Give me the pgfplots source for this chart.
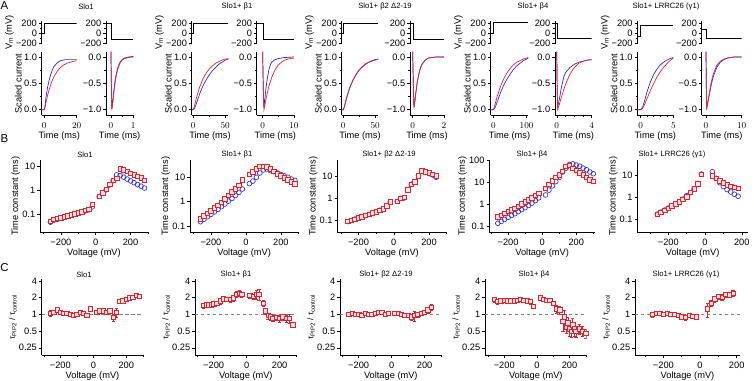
\documentclass[border=0pt]{standalone}
\usepackage{pgfplots}
\pgfplotsset{compat=1.18}
\usepackage{fontspec}
\setmainfont{Liberation Sans}
\definecolor{ired}{RGB}{225,35,45}
\definecolor{iblue}{RGB}{40,40,215}
\newcommand{\tf}{\fontsize{9.3}{10}\selectfont}
\newcommand{\ttf}{\fontsize{7.7}{8}\selectfont}
\pgfplotsset{
  base/.style={scale only axis, anchor=south west, axis lines=left,
    axis line style={-, line width=0.55pt},
    tick align=outside, major tick length=2.8bp, minor tick length=1.6bp,
    tick style={black, line width=0.5pt},
    ticklabel style={font=\tf, inner sep=1pt},
    xticklabel style={yshift=-3.5bp},
    yticklabel style={xshift=-0.8bp},
    label style={font=\tf, inner sep=1pt},
    xlabel style={yshift=-1bp},
  },
  prot/.style={base, axis x line=none, ymin=-220, ymax=250, height=23.5bp,
    ytick={-200,0,200}, yticklabels={−200,0,200}, minor ytick={-100,100}},
  curL/.style={base, ymin=-0.1, ymax=1.1, height=63.3bp, ytick={0,0.5,1},
    yticklabels={0.0,0.5,1.0}, minor ytick={0.25,0.75}, xlabel={Time (ms)}},
  curR/.style={base, ymin=-1.1, ymax=0.1, height=63.3bp, ytick={-1,-0.5,0},
    yticklabels={−1.0,−0.5,0.0}, minor ytick={-0.75,-0.25}, xlabel={Time (ms)}},
  rowB/.style={base, height=71.5bp, yminorticks=false,
    xtick={-200,0,200}, xticklabels={−200,0,200}, minor xtick={-300,-100,100,300},
    xlabel={Voltage (mV)}},
  rowC/.style={base, height=76bp, ymin=0.185, ymax=4.35, yminorticks=false,
    ytick={0.25,0.5,1,2,4}, yticklabels={0.25,0.5,1,2,4},
    xtick={-200,0,200}, xticklabels={−200,0,200}, minor xtick={-300,-100,100,300},
    xlabel={Voltage (mV)}, ylabel={τ\textsubscript{PIP2} / τ\textsubscript{control}},
    ylabel style={font=\fontsize{8.5}{9}\selectfont}},
  pl/.style={black, line width=0.6pt},
  trB/.style={iblue, line width=0.7pt, no marks},
  trR/.style={ired, line width=0.7pt, no marks},
  mB/.style={iblue, only marks, mark=o, mark size=2.4bp, mark options={line width=0.65pt}},
  mR/.style={ired, only marks, mark=square*, mark size=2.2bp, mark options={line width=0.65pt, fill=ired!12}},
  mC/.style={ired, only marks, mark=square*, mark size=2.2bp, mark options={line width=0.65pt, fill=ired!12},
    error bars/.cd, y dir=both, y explicit,
    error bar style={ired, line width=0.5pt},
    error mark options={rotate=90, ired, mark size=1.6bp, line width=0.5pt}},
  dl/.style={gray, line width=0.6pt, dash pattern=on 3.5pt off 2.5pt},
}
\begin{document}
\begin{tikzpicture}
\useasboundingbox (0,0) rectangle (754bp,381bp);
% ---------- panel letters and titles ----------
\node[font=\fontsize{11.5}{12}\selectfont] at (4.5bp,375.5bp) {A};
\node[font=\fontsize{11.5}{12}\selectfont] at (4.5bp,242bp) {B};
\node[font=\fontsize{11.5}{12}\selectfont] at (4.5bp,113bp) {C};
\foreach \x/\t in {86/Slo1, 237/Slo1+ β1, 385/Slo1+ β2 Δ2-19, 533/Slo1+ β4, 666/Slo1+ LRRC26 (γ1)}
  \node[font=\ttf] at (\x bp,374bp) {\t};
\foreach \x/\t in {85/Slo1, 237/Slo1+ β1, 389/Slo1+ β2 Δ2-19, 532/Slo1+ β4, 672/Slo1+ LRRC26 (γ1)}
  \node[font=\ttf] at (\x bp,226bp) {\t};
\foreach \x/\t in {84/Slo1, 236/Slo1+ β1, 386/Slo1+ β2 Δ2-19, 534/Slo1+ β4, 686/Slo1+ LRRC26 (γ1)}
  \node[font=\ttf] at (\x bp,106bp) {\t};

% ================= ROW A =================
% ---- col 1 Slo1
\begin{axis}[prot, at={(41.7bp,336.7bp)}, width=35bp, xmin=-1.6, xmax=20, ylabel={V\textsubscript{m} (mV)}]
\addplot[pl] coordinates {(-1.6,0)(0,0)(0,200)(20,200)};
\end{axis}
\begin{axis}[prot, at={(106bp,336.7bp)}, width=27.3bp, xmin=-0.22, xmax=1]
\addplot[pl] coordinates {(-0.22,200)(0.03,200)(0.03,-120)(1,-120)};
\end{axis}
\begin{axis}[curL, at={(41.7bp,266bp)}, width=35bp, xmin=-1.6, xmax=20, xtick={0,20}, minor xtick={10}, ylabel={Scaled current}]
\addplot[trB] coordinates {(-1.6,0)(0,0)(0.5,0.08)(1,0.22)(2,0.42)(3,0.56)(4,0.67)(5,0.76)(6,0.82)(8,0.89)(10,0.93)(13,0.95)(16,0.95)(20,0.95)};
\addplot[trR] coordinates {(-1.6,0)(0,0)(0.5,0.05)(1,0.13)(2,0.27)(3,0.38)(4,0.48)(5,0.56)(6,0.63)(8,0.73)(10,0.8)(12,0.85)(14,0.88)(17,0.91)(20,0.93)};
\end{axis}
\begin{axis}[curR, at={(106bp,266bp)}, width=27.3bp, xmin=-0.22, xmax=1, xtick={0,1}, minor xtick={0.5}]
\addplot[trB] coordinates {(0,0.1)(0.02,-0.5)(0.04,-0.98)(0.08,-0.85)(0.12,-0.68)(0.16,-0.53)(0.2,-0.41)(0.25,-0.3)(0.3,-0.21)(0.4,-0.1)(0.5,-0.05)(0.6,-0.02)(0.8,0)(1,0.01)};
\addplot[trR] coordinates {(0,0.1)(0.02,-0.5)(0.04,-1)(0.08,-0.9)(0.12,-0.72)(0.16,-0.57)(0.2,-0.45)(0.25,-0.33)(0.3,-0.24)(0.4,-0.12)(0.5,-0.06)(0.6,-0.03)(0.8,-0.01)(1,0)};
\end{axis}
% ---- col 2 beta1
\begin{axis}[prot, at={(191.7bp,336.7bp)}, width=36.6bp, xmin=-2.5, xmax=55, ylabel={V\textsubscript{m} (mV)}]
\addplot[pl] coordinates {(-2.5,0)(0,0)(0,200)(55,200)};
\end{axis}
\begin{axis}[prot, at={(256.7bp,336.7bp)}, width=37.3bp, xmin=-1.9, xmax=10]
\addplot[pl] coordinates {(-1.9,200)(0.2,200)(0.2,-120)(10,-120)};
\end{axis}
\begin{axis}[curL, at={(191.7bp,266bp)}, width=36.6bp, xmin=-2.5, xmax=55, xtick={0,50}, minor xtick={25}, ylabel={Scaled current}]
\addplot[trB] coordinates {(-2.5,0)(0,0)(2,0.03)(5,0.12)(10,0.3)(15,0.45)(20,0.56)(25,0.66)(30,0.74)(35,0.8)(40,0.86)(45,0.9)(50,0.94)(55,0.96)};
\addplot[trR] coordinates {(-2.5,0)(0,0)(2,0.08)(5,0.23)(10,0.43)(15,0.58)(20,0.69)(25,0.77)(30,0.83)(35,0.88)(40,0.91)(45,0.94)(50,0.96)(55,0.97)};
\end{axis}
\begin{axis}[curR, at={(256.7bp,266bp)}, width=37.3bp, xmin=-1.9, xmax=10, xtick={0,10}, minor xtick={5}]
\addplot[trB] coordinates {(0,0.1)(0.2,-0.6)(0.4,-0.95)(0.7,-0.8)(1,-0.62)(1.5,-0.4)(2,-0.24)(2.5,-0.14)(3,-0.09)(4,-0.05)(5,-0.03)(7,-0.01)(10,0)};
\addplot[trR] coordinates {(0,0.1)(0.2,-0.6)(0.4,-1)(0.7,-0.92)(1,-0.82)(1.5,-0.68)(2,-0.55)(3,-0.37)(4,-0.24)(5,-0.15)(6,-0.1)(7,-0.06)(8,-0.04)(10,-0.02)};
\end{axis}
% ---- col 3 beta2
\begin{axis}[prot, at={(341.7bp,336.7bp)}, width=36.6bp, xmin=-2.5, xmax=55, ylabel={V\textsubscript{m} (mV)}]
\addplot[pl] coordinates {(-2.5,0)(0,0)(0,200)(55,200)};
\end{axis}
\begin{axis}[prot, at={(410bp,336.7bp)}, width=34bp, xmin=-0.17, xmax=2]
\addplot[pl] coordinates {(-0.17,200)(0.02,200)(0.02,-120)(2,-120)};
\end{axis}
\begin{axis}[curL, at={(341.7bp,266bp)}, width=36.6bp, xmin=-2.5, xmax=55, xtick={0,50}, minor xtick={25}, ylabel={Scaled current}]
\addplot[trB] coordinates {(-2.5,0)(0,0)(2,0.07)(5,0.21)(10,0.41)(15,0.55)(20,0.66)(25,0.75)(30,0.81)(35,0.86)(40,0.9)(45,0.93)(50,0.95)(55,0.96)};
\addplot[trR] coordinates {(-2.5,0)(0,0)(2,0.07)(5,0.22)(10,0.42)(15,0.56)(20,0.67)(25,0.76)(30,0.82)(35,0.87)(40,0.9)(45,0.92)(50,0.94)(55,0.96)};
\end{axis}
\begin{axis}[curR, at={(410bp,266bp)}, width=34bp, xmin=-0.17, xmax=2, xtick={0,2}, minor xtick={1}]
\addplot[trB] coordinates {(0,0.1)(0.04,-0.5)(0.08,-0.95)(0.15,-0.82)(0.2,-0.68)(0.3,-0.46)(0.4,-0.31)(0.5,-0.2)(0.6,-0.13)(0.8,-0.06)(1,-0.02)(1.5,0)(2,0)};
\addplot[trR] coordinates {(0,0.1)(0.04,-0.5)(0.08,-0.97)(0.15,-0.83)(0.2,-0.69)(0.3,-0.47)(0.4,-0.32)(0.5,-0.21)(0.6,-0.14)(0.8,-0.06)(1,-0.02)(1.5,0)(2,0)};
\end{axis}
% ---- col 4 beta4
\begin{axis}[prot, at={(490.7bp,336.7bp)}, width=37.6bp, xmin=-8, xmax=105, ylabel={V\textsubscript{m} (mV)}]
\addplot[pl] coordinates {(-8,0)(0,0)(0,220)(105,220)};
\end{axis}
\begin{axis}[prot, at={(555bp,336.7bp)}, width=36.7bp, xmin=-0.2, xmax=4]
\addplot[pl] coordinates {(-0.2,200)(0.05,200)(0.05,-110)(4,-110)};
\end{axis}
\begin{axis}[curL, at={(490.7bp,266bp)}, width=37.6bp, xmin=-8, xmax=105, xtick={0,100}, minor xtick={50}, ylabel={Scaled current}]
\addplot[trB] coordinates {(-8,0)(0,0)(5,0.04)(10,0.12)(20,0.3)(30,0.45)(40,0.57)(50,0.67)(60,0.76)(70,0.83)(80,0.88)(90,0.93)(100,0.96)(105,0.98)};
\addplot[trR] coordinates {(-8,0)(0,0)(5,0.1)(10,0.22)(20,0.42)(30,0.57)(40,0.69)(50,0.78)(60,0.85)(70,0.9)(80,0.93)(90,0.96)(100,0.98)(105,0.99)};
\end{axis}
\begin{axis}[curR, at={(555bp,266bp)}, width=36.7bp, xmin=-0.2, xmax=4, xtick={0,4}, minor xtick={1,2,3}]
\addplot[trB] coordinates {(0,0.1)(0.05,-0.6)(0.1,-0.95)(0.3,-0.8)(0.5,-0.6)(0.8,-0.38)(1,-0.3)(1.5,-0.2)(2,-0.14)(2.5,-0.1)(3,-0.08)(3.5,-0.06)(4,-0.05)};
\addplot[trR] coordinates {(0,0.1)(0.05,-0.6)(0.1,-1)(0.3,-0.9)(0.5,-0.78)(0.8,-0.62)(1,-0.52)(1.5,-0.33)(2,-0.2)(2.5,-0.12)(3,-0.08)(3.5,-0.06)(4,-0.05)};
\end{axis}
% ---- col 5 LRRC26
\begin{axis}[prot, at={(637.3bp,336.7bp)}, width=36bp, xmin=-0.52, xmax=5, ylabel={V\textsubscript{m} (mV)}]
\addplot[pl] coordinates {(-0.52,-70)(0,-70)(0,160)(5,160)};
\end{axis}
\begin{axis}[prot, at={(701.7bp,336.7bp)}, width=40bp, xmin=-1.2, xmax=10]
\addplot[pl] coordinates {(-1.2,80)(0.1,80)(0.1,-100)(10,-100)};
\end{axis}
\begin{axis}[curL, at={(637.3bp,266bp)}, width=36bp, xmin=-0.52, xmax=5, xtick={0,5}, minor xtick={1,2,3,4}, ylabel={Scaled current}]
\addplot[trB] coordinates {(-0.52,0)(0,0)(0.3,0.05)(0.6,0.17)(1,0.35)(1.5,0.53)(2,0.67)(2.5,0.77)(3,0.85)(3.5,0.9)(4,0.94)(4.5,0.97)(5,0.99)};
\addplot[trR] coordinates {(-0.52,0)(0,0)(0.3,0.03)(0.6,0.1)(1,0.22)(1.5,0.37)(2,0.5)(2.5,0.62)(3,0.72)(3.5,0.8)(4,0.87)(4.5,0.93)(5,0.98)};
\end{axis}
\begin{axis}[curR, at={(701.7bp,266bp)}, width=40bp, xmin=-1.2, xmax=10, xtick={0,10}, minor xtick={5}]
\addplot[trB] coordinates {(0,0.1)(0.1,-0.6)(0.2,-0.95)(0.5,-0.85)(1,-0.7)(1.5,-0.52)(2,-0.38)(3,-0.2)(4,-0.1)(5,-0.05)(6,-0.02)(8,0)(10,0)};
\addplot[trR] coordinates {(0,0.1)(0.1,-0.6)(0.2,-1)(0.5,-0.88)(1,-0.65)(1.5,-0.47)(2,-0.33)(3,-0.16)(4,-0.08)(5,-0.04)(6,-0.02)(8,0)(10,0)};
\end{axis}

% ================= ROW B =================
\begin{semilogyaxis}[rowB, at={(40bp,149bp)}, width=108bp, xmin=-320, xmax=300, ymin=0.0173, ymax=18.3,
  ytick={0.1,1,10}, yticklabels={0.1,1,10}, ylabel={Time constant (ms)}]
\addplot[mB] coordinates {(-260,0.045)(-240,0.055)(-220,0.06)(-200,0.066)(-180,0.073)(-160,0.082)(-140,0.09)(-120,0.1)(-100,0.11)(-80,0.12)(-60,0.135)(-40,0.15)(-20,0.2)(20,0.55)(40,0.78)(60,1.05)(80,1.7)(100,2.6)(120,4.5)(140,4.2)(160,3.6)(180,3.0)(200,2.5)(220,2.1)(240,1.75)(260,1.5)(280,1.25)};
\addplot[mR] coordinates {(-260,0.048)(-240,0.058)(-220,0.065)(-200,0.068)(-180,0.075)(-160,0.083)(-140,0.092)(-120,0.1)(-100,0.11)(-80,0.125)(-60,0.14)(-40,0.155)(-20,0.26)(20,0.55)(40,0.8)(60,1.1)(80,1.8)(100,2.6)(120,3.2)(140,8.0)(160,7.5)(180,6.2)(200,5.3)(220,4.6)(240,4.0)(260,3.4)(280,2.7)};
\end{semilogyaxis}
\begin{semilogyaxis}[rowB, at={(190bp,149bp)}, width=108.3bp, xmin=-320, xmax=300, ymin=0.0568, ymax=49,
  ytick={0.1,1,10}, yticklabels={0.1,1,10}, ylabel={Time constant (ms)}]
\addplot[mB] coordinates {(-260,0.15)(-240,0.19)(-220,0.24)(-200,0.3)(-180,0.38)(-160,0.48)(-140,0.62)(-120,0.8)(-100,1.05)(-80,1.35)(-60,1.8)(-40,2.4)(-20,3.3)(20,5.5)(40,7)(60,10)(80,15)(100,20)(120,22)(140,19)(160,17)(180,15)(200,13)(220,11.5)(240,10)(260,8.5)(280,7.5)};
\addplot[mR] coordinates {(-260,0.2)(-240,0.26)(-220,0.33)(-200,0.42)(-180,0.55)(-160,0.72)(-140,0.95)(-120,1.3)(-100,1.8)(-80,2.5)(-60,3.4)(-40,4.6)(-20,8.0)(20,13)(40,17)(60,22)(80,28)(100,29)(120,27)(140,22)(160,18)(180,14)(200,11.5)(220,9.5)(240,8)(260,6.5)(280,5.3)};
\end{semilogyaxis}
\begin{semilogyaxis}[rowB, at={(337.3bp,149bp)}, width=109.4bp, xmin=-320, xmax=300, ymin=0.0279, ymax=56,
  ytick={0.1,1,10}, yticklabels={0.1,1,10}, ylabel={Time constant (ms)}]
\addplot[mB] coordinates {(-260,0.085)(-240,0.095)(-220,0.11)(-200,0.125)(-180,0.14)(-160,0.16)(-140,0.18)(-120,0.21)(-100,0.24)(-80,0.28)(-60,0.33)(-40,0.47)(-20,0.7)(20,0.72)(40,1.0)(60,1.05)(80,2.4)(100,4.5)(120,5.8)(140,11)(160,18)(180,16)(200,14)(220,12)(240,9.5)};
\addplot[mR] coordinates {(-260,0.085)(-240,0.095)(-220,0.11)(-200,0.125)(-180,0.14)(-160,0.16)(-140,0.18)(-120,0.21)(-100,0.24)(-80,0.28)(-60,0.33)(-40,0.45)(-20,0.7)(20,0.75)(40,1.0)(60,1.1)(80,2.5)(100,4.5)(120,5.8)(140,11)(160,19)(180,17)(200,15)(220,13)(240,11)};
\end{semilogyaxis}
\begin{semilogyaxis}[rowB, at={(489.3bp,149bp)}, width=105.7bp, xmin=-310, xmax=310, ymin=0.056, ymax=100,
  ytick={0.1,1,10,100}, yticklabels={0.1,1,10,100}, ylabel={Time constant (ms)}]
\addplot[mB] coordinates {(-260,0.14)(-240,0.17)(-220,0.21)(-200,0.26)(-180,0.32)(-160,0.38)(-140,0.47)(-120,0.58)(-100,0.72)(-80,0.9)(-60,1.15)(-40,1.5)(-20,2.0)(20,2.7)(40,4.5)(60,7)(80,11)(100,17)(120,30)(140,45)(160,65)(180,70)(200,62)(220,55)(240,45)(260,38)(280,30)(300,25)};
\addplot[mR] coordinates {(-260,0.27)(-240,0.33)(-220,0.4)(-200,0.48)(-180,0.56)(-160,0.68)(-140,0.85)(-120,1.05)(-100,1.3)(-80,1.6)(-60,2.0)(-40,2.6)(-20,3.2)(20,5.5)(40,8)(60,12)(80,17)(100,22)(120,32)(140,55)(160,60)(180,45)(200,35)(220,28)(240,22)(260,17)(280,13)(300,11)};
\end{semilogyaxis}
\begin{semilogyaxis}[rowB, at={(637.3bp,149bp)}, width=110.7bp, xmin=-369, xmax=234, ymin=0.0267, ymax=45,
  ytick={0.1,1,10}, yticklabels={0.1,1,10}, ylabel={Time constant (ms)}]
\addplot[mB] coordinates {(-260,0.17)(-240,0.21)(-220,0.26)(-200,0.32)(-180,0.4)(-160,0.5)(-140,0.62)(-120,0.82)(-100,1.15)(-80,1.6)(-60,2.4)(-40,4)(-20,11)(40,14)(60,7)(80,4.5)(100,3.0)(120,2.2)(140,1.7)(160,1.35)(180,1.1)};
\addplot[mR] coordinates {(-260,0.17)(-240,0.21)(-220,0.26)(-200,0.32)(-180,0.4)(-160,0.5)(-140,0.62)(-120,0.8)(-100,1.05)(-80,1.6)(-60,2.4)(-40,4)(-20,11)(40,9)(60,7)(80,5.5)(100,4.5)(120,3.6)(140,3.0)(160,2.7)(180,2.5)};
\end{semilogyaxis}

% ================= ROW C =================
\begin{semilogyaxis}[rowC, at={(41.7bp,26bp)}, width=101.6bp, xmin=-313, xmax=303]
\addplot[dl] coordinates {(-313,1)(303,1)};
\addplot[mC] coordinates {(-260,1.05)+-(0,0.12)(-240,1.1)+-(0,0.1)(-220,1.2)+-(0,0.12)(-200,1.08)+-(0,0.08)(-180,1.05)+-(0,0.06)(-160,1.05)+-(0,0.06)(-140,1.0)+-(0,0.05)(-120,0.95)+-(0,0.05)(-100,1.0)+-(0,0.06)(-80,1.1)+-(0,0.08)(-60,1.05)+-(0,0.06)(-40,0.95)+-(0,0.06)(-20,1.25)+-(0,0.08)(20,1.1)+-(0,0.06)(40,1.15)+-(0,0.06)(60,1.15)+-(0,0.06)(80,1.1)+-(0,0.1)(100,1.15)+-(0,0.12)(120,0.88)+-(0,0.12)(140,1.1)+-(0,0.2)(160,1.7)+-(0,0.12)(180,1.75)+-(0,0.1)(200,1.85)+-(0,0.1)(220,2.0)+-(0,0.12)(240,2.05)+-(0,0.1)(260,2.2)+-(0,0.15)(280,2.1)+-(0,0.15)};
\end{semilogyaxis}
\begin{semilogyaxis}[rowC, at={(195bp,26bp)}, width=101.6bp, xmin=-313, xmax=303]
\addplot[dl] coordinates {(-313,1)(303,1)};
\addplot[mC] coordinates {(-260,1.45)+-(0,0.15)(-245,1.5)+-(0,0.15)(-230,1.5)+-(0,0.15)(-215,1.5)+-(0,0.12)(-200,1.55)+-(0,0.12)(-180,1.6)+-(0,0.15)(-160,1.75)+-(0,0.2)(-140,1.9)+-(0,0.2)(-120,1.85)+-(0,0.15)(-100,1.85)+-(0,0.2)(-80,2.0)+-(0,0.25)(-60,2.3)+-(0,0.3)(-45,2.4)+-(0,0.3)(-30,2.3)+-(0,0.25)(20,2.2)+-(0,0.25)(40,2.1)+-(0,0.25)(60,2.3)+-(0,0.4)(75,2.3)+-(0,0.5)(100,1.6)+-(0,0.2)(115,1.15)+-(0,0.15)(130,0.95)+-(0,0.12)(145,0.9)+-(0,0.1)(160,0.85)+-(0,0.1)(180,0.88)+-(0,0.1)(200,0.85)+-(0,0.12)(220,0.9)+-(0,0.12)(240,0.85)+-(0,0.12)(260,0.85)+-(0,0.15)(280,0.65)+-(0,0.06)};
\end{semilogyaxis}
\begin{semilogyaxis}[rowC, at={(340bp,26bp)}, width=101.6bp, xmin=-313, xmax=303]
\addplot[dl] coordinates {(-313,1)(303,1)};
\addplot[mC] coordinates {(-260,1.0)+-(0,0.05)(-240,1.05)+-(0,0.05)(-220,1.0)+-(0,0.05)(-200,1.0)+-(0,0.05)(-180,0.95)+-(0,0.05)(-160,1.05)+-(0,0.06)(-140,1.0)+-(0,0.05)(-120,1.0)+-(0,0.05)(-100,1.05)+-(0,0.06)(-80,1.1)+-(0,0.08)(-60,1.1)+-(0,0.08)(-40,1.0)+-(0,0.06)(-20,1.05)+-(0,0.06)(20,1.05)+-(0,0.06)(40,1.05)+-(0,0.05)(60,1.0)+-(0,0.05)(80,0.95)+-(0,0.05)(100,0.95)+-(0,0.06)(120,0.9)+-(0,0.1)(140,0.95)+-(0,0.2)(160,1.0)+-(0,0.1)(180,1.05)+-(0,0.1)(200,1.1)+-(0,0.1)(220,1.2)+-(0,0.15)(240,1.35)+-(0,0.15)};
\end{semilogyaxis}
\begin{semilogyaxis}[rowC, at={(485bp,26bp)}, width=101.6bp, xmin=-318, xmax=305]
\addplot[dl] coordinates {(-318,1)(305,1)};
\addplot[mC] coordinates {(-260,1.85)+-(0,0.2)(-240,1.7)+-(0,0.2)(-220,1.75)+-(0,0.15)(-200,1.8)+-(0,0.12)(-180,1.75)+-(0,0.12)(-160,1.75)+-(0,0.12)(-140,1.75)+-(0,0.12)(-120,1.8)+-(0,0.12)(-100,1.85)+-(0,0.15)(-80,1.8)+-(0,0.15)(-60,1.75)+-(0,0.15)(-40,1.7)+-(0,0.15)(-20,1.4)+-(0,0.1)(20,2.0)+-(0,0.2)(40,1.85)+-(0,0.15)(60,1.8)+-(0,0.15)(80,1.8)+-(0,0.15)(100,1.6)+-(0,0.15)(120,1.25)+-(0,0.2)(140,1.2)+-(0,0.2)(160,0.75)+-(0,0.25)(170,0.9)+-(0,0.3)(180,0.6)+-(0,0.15)(190,0.7)+-(0,0.2)(200,0.55)+-(0,0.15)(210,0.5)+-(0,0.12)(220,0.65)+-(0,0.2)(230,0.55)+-(0,0.15)(240,0.5)+-(0,0.12)(260,0.55)+-(0,0.12)(280,0.5)+-(0,0.1)(300,0.45)+-(0,0.08)};
\end{semilogyaxis}
\begin{semilogyaxis}[rowC, at={(635bp,26bp)}, width=105bp, xmin=-355, xmax=218]
\addplot[dl] coordinates {(-355,1)(218,1)};
\addplot[mC] coordinates {(-260,1.0)+-(0,0.1)(-240,1.05)+-(0,0.08)(-220,1.05)+-(0,0.08)(-200,1.0)+-(0,0.06)(-180,1.05)+-(0,0.06)(-160,1.0)+-(0,0.06)(-140,1.0)+-(0,0.06)(-120,0.95)+-(0,0.06)(-100,0.9)+-(0,0.08)(-80,0.88)+-(0,0.08)(-60,0.95)+-(0,0.08)(-40,0.92)+-(0,0.08)(-20,0.9)+-(0,0.08)(40,1.25)+-(0,0.35)(60,1.6)+-(0,0.2)(80,1.9)+-(0,0.25)(100,2.1)+-(0,0.25)(120,2.05)+-(0,0.25)(140,2.3)+-(0,0.25)(160,2.25)+-(0,0.25)(180,2.4)+-(0,0.3)};
\end{semilogyaxis}
\end{tikzpicture}
\end{document}
